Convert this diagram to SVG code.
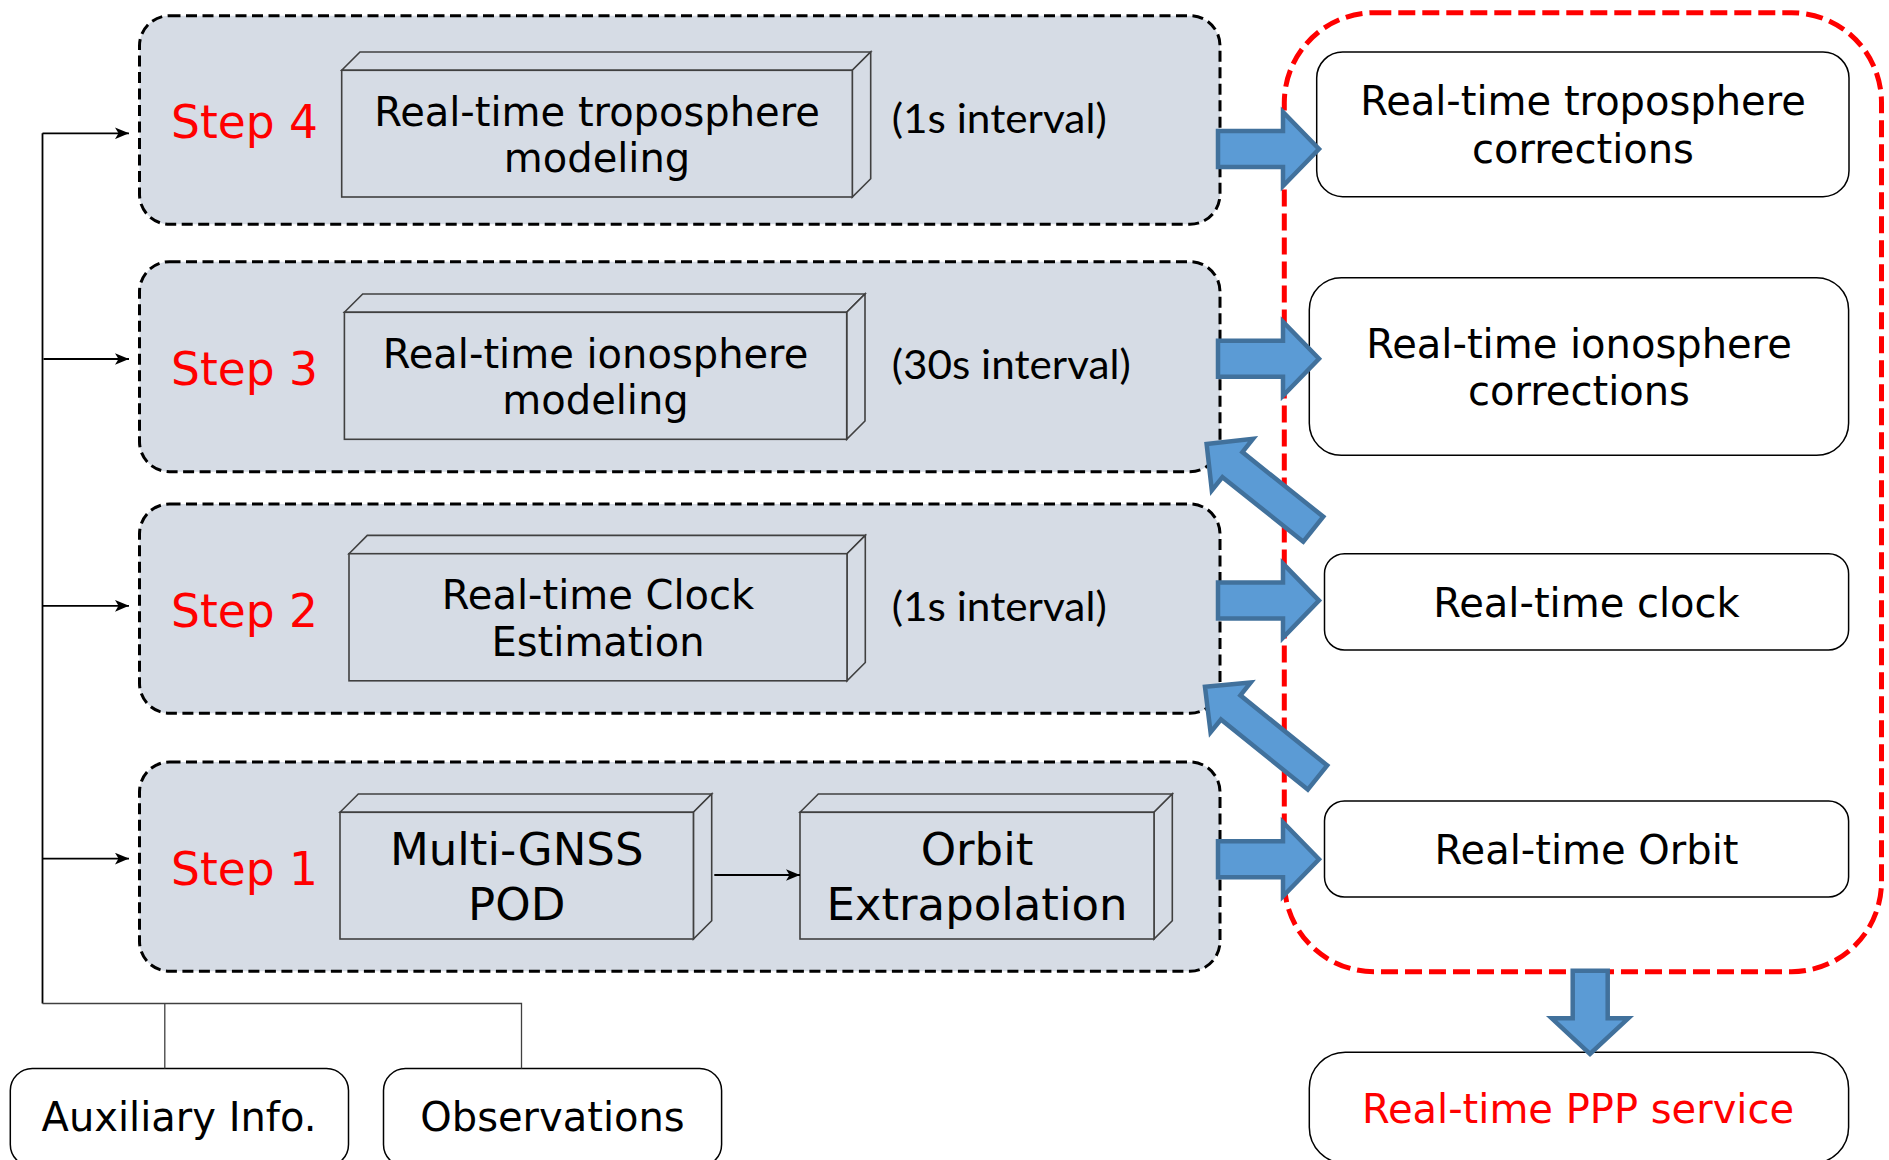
<svg xmlns="http://www.w3.org/2000/svg" width="1889" height="1160" viewBox="0 0 1889 1160">
<defs>
<style>
.grp{fill:#D6DCE5;stroke:#000;stroke-width:3;stroke-dasharray:11 5.5}
.red{fill:none;stroke:#FF0000;stroke-width:5;stroke-dasharray:17 7}
.box3d{fill:#D6DCE5;stroke:#404040;stroke-width:1.6;stroke-linejoin:miter}
.rbox{fill:#fff;stroke:#000;stroke-width:1.5}
.t{font-family:"DejaVu Sans","Verdana",sans-serif;font-size:40px;fill:#000;text-anchor:middle}
.big{font-size:45px}
.step{font-family:"DejaVu Sans","Verdana",sans-serif;font-size:45.5px;fill:#FF0000}
.iv{font-family:"Lato","Open Sans",sans-serif;font-size:41px;fill:#000}
.blk{fill:#5B9BD5;stroke:#41719C;stroke-width:4.5;stroke-linejoin:miter}
.ln{fill:none;stroke:#000;stroke-width:1.8}
.ln2{fill:none;stroke:#404040;stroke-width:1.3}
</style>
<marker id="ah" viewBox="0 0 12 10" refX="12" refY="5" markerWidth="14" markerHeight="12" markerUnits="userSpaceOnUse" orient="auto">
<path d="M0,0 L12,5 L0,10 L3,5 Z" fill="#000"/>
</marker>
</defs>

<g id="red-group">
<rect class="red" x="1284.3" y="12.7" width="597.2" height="959" rx="90" ry="90"/>
</g>

<g id="step4">
<rect class="grp" x="139.5" y="15.7" width="1080.5" height="208.6" rx="30" ry="30"/>
<text class="step" x="171" y="138.3">Step 4</text>
<g id="tropo-model">
<polygon class="box3d" points="341.7,70.3 360,52 870.7,52 852.3,70.3"/>
<polygon class="box3d" points="852.3,70.3 870.7,52 870.7,178.7 852.3,197"/>
<rect class="box3d" x="341.7" y="70.3" width="510.6" height="126.7"/>
<text class="t" x="597" y="125.7">Real-time troposphere</text>
<text class="t" x="597" y="172.3">modeling</text>
</g>
<text class="iv" x="891.7" y="132.7" textLength="215" lengthAdjust="spacingAndGlyphs">(1s interval)</text>
</g>

<g id="step3">
<rect class="grp" x="139.5" y="261.7" width="1080.5" height="210" rx="30" ry="30"/>
<text class="step" x="171" y="384.5">Step 3</text>
<g id="iono-model">
<polygon class="box3d" points="344.4,312.3 362.7,294 865,294 846.7,312.3"/>
<polygon class="box3d" points="846.7,312.3 865,294 865,421 846.7,439.3"/>
<rect class="box3d" x="344.4" y="312.3" width="502.3" height="127"/>
<text class="t" x="595.5" y="367.5">Real-time ionosphere</text>
<text class="t" x="595.5" y="414">modeling</text>
</g>
<text class="iv" x="891.7" y="378.5" textLength="239" lengthAdjust="spacingAndGlyphs">(30s interval)</text>
</g>

<g id="step2">
<rect class="grp" x="139.5" y="504" width="1080.5" height="209.3" rx="30" ry="30"/>
<text class="step" x="171" y="626.8">Step 2</text>
<g id="clock-est">
<polygon class="box3d" points="349,553.7 367.3,535.4 865.3,535.4 847,553.7"/>
<polygon class="box3d" points="847,553.7 865.3,535.4 865.3,662.5 847,680.8"/>
<rect class="box3d" x="349" y="553.7" width="498" height="127.1"/>
<text class="t" x="598" y="609">Real-time Clock</text>
<text class="t" x="598" y="655.5">Estimation</text>
</g>
<text class="iv" x="891.7" y="620.5" textLength="215" lengthAdjust="spacingAndGlyphs">(1s interval)</text>
</g>

<g id="step1">
<rect class="grp" x="139.5" y="762" width="1080.5" height="209.3" rx="30" ry="30"/>
<text class="step" x="171" y="884.5">Step 1</text>
<g id="pod">
<polygon class="box3d" points="340,812.3 358.3,794 711.7,794 693.4,812.3"/>
<polygon class="box3d" points="693.4,812.3 711.7,794 711.7,920.7 693.4,939"/>
<rect class="box3d" x="340" y="812.3" width="353.4" height="126.7"/>
<text class="t big" x="516.7" y="865">Multi-GNSS</text>
<text class="t big" x="516.7" y="920">POD</text>
</g>
<g id="orbit-extrap">
<polygon class="box3d" points="800,812.3 818.3,794 1172.3,794 1154,812.3"/>
<polygon class="box3d" points="1154,812.3 1172.3,794 1172.3,920.7 1154,939"/>
<rect class="box3d" x="800" y="812.3" width="354" height="126.7"/>
<text class="t big" x="977" y="865">Orbit</text>
<text class="t big" x="977" y="920">Extrapolation</text>
</g>
</g>

<g id="tropo-corr">
<rect class="rbox" x="1316.7" y="52" width="532.3" height="144.7" rx="26" ry="26"/>
<text class="t" x="1583" y="115">Real-time troposphere</text>
<text class="t" x="1583" y="163.3">corrections</text>
</g>
<g id="iono-corr">
<rect class="rbox" x="1309.3" y="277.7" width="539.3" height="177.6" rx="32" ry="32"/>
<text class="t" x="1579" y="357.5">Real-time ionosphere</text>
<text class="t" x="1579" y="405">corrections</text>
</g>
<g id="rt-clock">
<rect class="rbox" x="1324.5" y="553.7" width="524.1" height="96.3" rx="20" ry="20"/>
<text class="t" x="1586.5" y="616.6">Real-time clock</text>
</g>
<g id="rt-orbit">
<rect class="rbox" x="1324.5" y="801" width="524.1" height="96" rx="20" ry="20"/>
<text class="t" x="1586.5" y="863.5">Real-time Orbit</text>
</g>
<g id="ppp">
<rect class="rbox" x="1309.3" y="1052.3" width="539.3" height="111" rx="36" ry="36"/>
<text class="t" x="1578" y="1123.3" style="fill:#FF0000">Real-time PPP service</text>
</g>
<g id="aux">
<rect class="rbox" x="10.3" y="1068.5" width="338.2" height="98" rx="22" ry="22"/>
<text class="t" x="179" y="1130.5">Auxiliary Info.</text>
</g>
<g id="obs">
<rect class="rbox" x="383.5" y="1068.5" width="338.1" height="98" rx="22" ry="22"/>
<text class="t" x="552.5" y="1130.5">Observations</text>
</g>

<g id="connectors">
<path class="ln" d="M42.5,133.3 V1003.5"/>
<path class="ln2" d="M42.5,1003.5 H521.5 V1068.5 M164.8,1003.5 V1068.5"/>
<path class="ln" d="M42.5,133.3 H129" marker-end="url(#ah)"/>
<path class="ln" d="M43.5,359 H129" marker-end="url(#ah)"/>
<path class="ln" d="M42.5,605.8 H129" marker-end="url(#ah)"/>
<path class="ln" d="M42.5,858.6 H129" marker-end="url(#ah)"/>
<path class="ln" d="M714.3,875 H800" marker-end="url(#ah)"/>
<path class="blk" d="M1218,131 H1283 V112 L1319,149 L1283,186 V167 H1218 Z"/>
<path class="blk" d="M1218,340.7 H1283 V321.7 L1319,358.7 L1283,395.7 V376.7 H1218 Z"/>
<path class="blk" d="M1218,582.6 H1283 V563.6 L1319,600.6 L1283,637.6 V618.6 H1218 Z"/>
<path class="blk" d="M1218,841.3 H1283 V822.3 L1319,859.3 L1283,896.3 V877.3 H1218 Z"/>
<path class="blk" transform="translate(1313.3,529.2) rotate(218.6)" d="M0,-16 H103.5 V-33 L136.5,0 L103.5,33 V16 H0 Z"/>
<path class="blk" transform="translate(1317.5,777.5) rotate(218.9)" d="M0,-15.5 H111.6 V-32 L144.6,0 L111.6,32 V15.5 H0 Z"/>
<path class="blk" d="M1572.7,970.7 H1607.7 V1018.3 H1628.3 L1590,1054 L1551.7,1018.3 H1572.7 Z"/>
</g>
</svg>
